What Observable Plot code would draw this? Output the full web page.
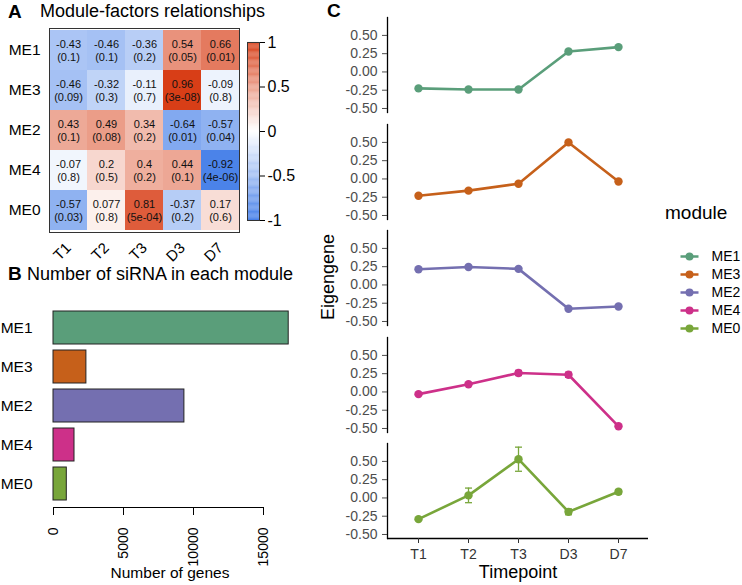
<!DOCTYPE html>
<html><head><meta charset="utf-8">
<script src="https://cdn.jsdelivr.net/npm/d3@7"></script>
<script src="https://cdn.jsdelivr.net/npm/@observablehq/plot@0.6"></script>
<style>
body{margin:0;background:#fff;}
#fig{position:relative;width:742px;height:585px;overflow:hidden;font-family:"Liberation Sans",Arial,sans-serif;color:#000;background:#fff;}
.t{position:absolute;white-space:nowrap;line-height:1;}
</style></head><body><div id="fig"></div>
<script>
// ---------- data ----------
const modules = ["ME1","ME3","ME2","ME4","ME0"];
const traits = ["T1","T2","T3","D3","D7"];
const corrME1 = [-0.43,-0.46,-0.36,0.54,0.66];
const corrME3 = [-0.46,-0.32,-0.11,0.96,-0.09];
const corrME2 = [0.43,0.49,0.34,-0.64,-0.57];
const corrME4 = [-0.07,0.2,0.4,0.44,-0.92];
const corrME0 = [-0.57,0.077,0.81,-0.37,0.17];
const pME1 = ["0.1","0.1","0.2","0.05","0.01"];
const pME3 = ["0.09","0.3","0.7","3e-08","0.8"];
const pME2 = ["0.1","0.08","0.2","0.01","0.04"];
const pME4 = ["0.8","0.5","0.2","0.1","4e-06"];
const pME0 = ["0.03","0.8","5e-04","0.2","0.6"];
const colorbarTicks = [-1,-0.5,0,0.5,1];

const geneCounts = [16800, 2350, 9350, 1500, 950];
const geneTicks = [0,5000,10000,15000];

const timepoints = ["T1","T2","T3","D3","D7"];
const eigME1 = [-0.225,-0.24,-0.24,0.28,0.34];
const eigME3 = [-0.23,-0.16,-0.065,0.50,-0.035];
const eigME2 = [0.215,0.245,0.22,-0.325,-0.295];
const eigME4 = [-0.03,0.105,0.26,0.235,-0.47];
const eigME0 = [-0.29,0.035,0.53,-0.19,0.085];
const errME1 = [0.01,0.01,0.01,0.015,0.01];
const errME3 = [0.01,0.012,0.012,0.02,0.01];
const errME2 = [0.01,0.015,0.01,0.01,0.01];
const errME4 = [0.01,0.015,0.035,0.035,0.01];
const errME0 = [0.012,0.1,0.165,0.04,0.03];
const eigTicks = [-0.5,-0.25,0,0.25,0.5];
const eigDomain = [-0.555, 0.745];

const moduleColors = ["#5a9e7a","#c6601a","#746fb0","#cd3089","#78a63a"];

// ---------- helpers ----------
const FONT = "Liberation Sans, Arial, sans-serif";
const fig = document.getElementById("fig");
function place(svg, left, top) {
  svg.style.position = "absolute";
  svg.style.left = left + "px";
  svg.style.top = top + "px";
  fig.appendChild(svg);
}
function label(str, {x, baseline, size = 16, weight = "normal", anchor = "start", rotate = false, color = "#000"}) {
  const d = document.createElement("div");
  d.className = "t";
  d.textContent = str;
  d.style.fontSize = size + "px";
  d.style.fontWeight = weight;
  d.style.color = color;
  if (rotate) {
    d.style.left = x + "px";
    d.style.top = baseline + "px";
    d.style.transform = "translate(-50%,-50%) rotate(-90deg)";
  } else {
    d.style.top = (baseline - 0.8465 * size) + "px";
    d.style.left = x + "px";
    if (anchor === "middle") d.style.transform = "translateX(-50%)";
  }
  fig.appendChild(d);
}
const baseStyle = {fontFamily: FONT, background: "transparent", overflow: "visible", color: "#000"};
const moduleColor = {domain: modules, range: moduleColors};

// ---------- A: heatmap ----------
const corrRows = [corrME1, corrME3, corrME2, corrME4, corrME0];
const pRows = [pME1, pME3, pME2, pME4, pME0];
const cells = modules.flatMap((m, i) => traits.map((t, j) => ({m, t, r: corrRows[i][j], p: pRows[i][j]})));
const heatColor = {type: "linear", domain: [-1, 0, 1], range: ["#3b78e7", "#ffffff", "#d6360d"]};

place(Plot.plot({
  width: 245, height: 270, marginLeft: 49, marginTop: 28, marginRight: 6, marginBottom: 38,
  style: baseStyle,
  x: {domain: traits, padding: 0},
  y: {domain: modules, padding: 0},
  color: heatColor,
  marks: [
    Plot.cell(cells, {x: "t", y: "m", fill: "r"}),
    Plot.text(cells, {x: "t", y: "m", text: d => `${d.r}\n(${d.p})`, fontSize: 11, lineHeight: 1.12, fill: "#111"}),
    Plot.frame({stroke: "#333"}),
    Plot.axisY({tickSize: 0, tickPadding: 9, fontSize: 15.5, label: null}),
    Plot.axisX({tickSize: 0, tickPadding: 13, tickRotate: -45, fontSize: 15, label: null})
  ]
}), 0, 0);

// colorbar
const barSteps = d3.range(-1, 1, 0.01);
place(Plot.plot({
  width: 60, height: 200, marginLeft: 7, marginRight: 41, marginTop: 12, marginBottom: 10,
  style: baseStyle,
  x: {domain: [0, 1], axis: null},
  y: {domain: [-1, 1]},
  color: heatColor,
  marks: [
    Plot.rect(barSteps, {x1: 0, x2: 1, y1: d => d, y2: d => d + 0.0105, fill: d => d + 0.005}),
    Plot.frame({stroke: "#333"}),
    Plot.axisY({anchor: "right", ticks: colorbarTicks, tickFormat: d => String(d), tickSize: 5, tickPadding: 3, fontSize: 16, label: null})
  ]
}), 240, 30);

label("A", {x: 8, baseline: 18, size: 19, weight: "bold"});
label("Module-factors relationships", {x: 40, baseline: 17.5, size: 18});

// ---------- B: bar chart ----------
const bars = modules.map((m, i) => ({m, n: geneCounts[i]}));
place(Plot.plot({
  width: 310, height: 212, marginLeft: 53, marginRight: 5, marginTop: 9, marginBottom: 0,
  style: baseStyle,
  x: {domain: [0, 18000], axis: null},
  y: {domain: modules, padding: 0.15},
  color: moduleColor,
  marks: [
    Plot.barX(bars, {x: "n", y: "m", fill: "m", stroke: "#222", strokeWidth: 1}),
    Plot.axisY({tickSize: 0, tickPadding: 21, fontSize: 15.5, label: null})
  ]
}), 0, 295);

place(Plot.plot({
  width: 310, height: 85, marginLeft: 53, marginRight: 5, marginTop: 0, marginBottom: 78,
  style: baseStyle,
  x: {domain: [0, 18000]},
  y: {domain: [0, 1], axis: null},
  marks: [
    Plot.ruleY([0], {x1: geneTicks[0], x2: geneTicks[geneTicks.length - 1], stroke: "#000"}),
    Plot.axisX({ticks: geneTicks, tickFormat: d => String(d), tickSize: 8, tickPadding: 12, tickRotate: -90, fontSize: 14, label: null})
  ]
}), 0, 500);

label("B", {x: 8, baseline: 280, size: 19, weight: "bold"});
label("Number of siRNA in each module", {x: 27, baseline: 280, size: 18});
label("Number of genes", {x: 170, baseline: 578, size: 15.5, anchor: "middle"});

// ---------- C: eigengene panels ----------
const eigRows = [eigME1, eigME3, eigME2, eigME4, eigME0];
const errRows = [errME1, errME3, errME2, errME4, errME0];
const capSymbol = {draw(context, size) { const w = Math.sqrt(size / Math.PI); context.moveTo(-w, 0); context.lineTo(w, 0); }};
const panelH = 95, panelStep = 106.5, panelTop0 = 17;
modules.forEach((m, i) => {
  const data = timepoints.map((t, j) => ({m, t, v: eigRows[i][j], e: errRows[i][j]}));
  place(Plot.plot({
    width: 360, height: panelH,
    marginLeft: 87, marginRight: 12, marginTop: 0, marginBottom: 0,
    style: baseStyle,
    x: {type: "point", domain: timepoints, padding: 0.6, axis: null},
    y: {domain: eigDomain},
    color: moduleColor,
    marks: [
      Plot.frame({anchor: "left", stroke: "#000", strokeWidth: 1.3}),
      Plot.axisY({ticks: eigTicks, tickFormat: d => d.toFixed(2), tickSize: 5, tickPadding: 5, fontSize: 14, color: "#4d4d4d", label: null}),
      Plot.ruleX(data, {x: "t", y1: d => d.v - d.e, y2: d => d.v + d.e, stroke: "m", strokeWidth: 1.3}),
      Plot.dot(data, {x: "t", y: d => d.v - d.e, symbol: capSymbol, r: 3.5, stroke: "m", fill: "none", strokeWidth: 1.3}),
      Plot.dot(data, {x: "t", y: d => d.v + d.e, symbol: capSymbol, r: 3.5, stroke: "m", fill: "none", strokeWidth: 1.3}),
      Plot.line(data, {x: "t", y: "v", stroke: "m", strokeWidth: 2.6}),
      Plot.dot(data, {x: "t", y: "v", fill: "m", r: 4.2})
    ]
  }), 300, panelTop0 + panelStep * i);
});

// shared x axis below the last panel
place(Plot.plot({
  width: 360, height: 48, marginLeft: 87, marginRight: 12, marginTop: 0, marginBottom: 47,
  style: baseStyle,
  x: {type: "point", domain: timepoints, padding: 0.6},
  y: {domain: [0, 1], axis: null},
  marks: [
    Plot.ruleY([0], {stroke: "#000", strokeWidth: 1.5}),
    Plot.axisX({tickSize: 5, tickPadding: 6, fontSize: 14, color: "#333", label: null})
  ]
}), 300, panelTop0 + panelStep * (modules.length - 1) + panelH - 1);

label("C", {x: 327, baseline: 17, size: 19, weight: "bold"});
label("Eigengene", {x: 328, baseline: 277, size: 18, rotate: true});
label("Timepoint", {x: 518, baseline: 578, size: 18, anchor: "middle"});

// legend
place(Plot.plot({
  width: 82, height: 120, marginLeft: 20, marginRight: 44, marginTop: 15, marginBottom: 12,
  style: baseStyle,
  x: {domain: [0, 1], axis: null},
  y: {type: "point", domain: modules, axis: null},
  color: moduleColor,
  marks: [
    Plot.link(modules, {x1: 0, x2: 1, y1: d => d, y2: d => d, stroke: d => d, strokeWidth: 2.5}),
    Plot.dot(modules, {x: 0.5, y: d => d, fill: d => d, r: 4}),
    Plot.text(modules, {x: 1, y: d => d, text: d => d, dx: 13, textAnchor: "start", fontSize: 14, fill: "#000"})
  ]
}), 660, 230);
label("module", {x: 665, baseline: 219, size: 19});
</script></body></html>
